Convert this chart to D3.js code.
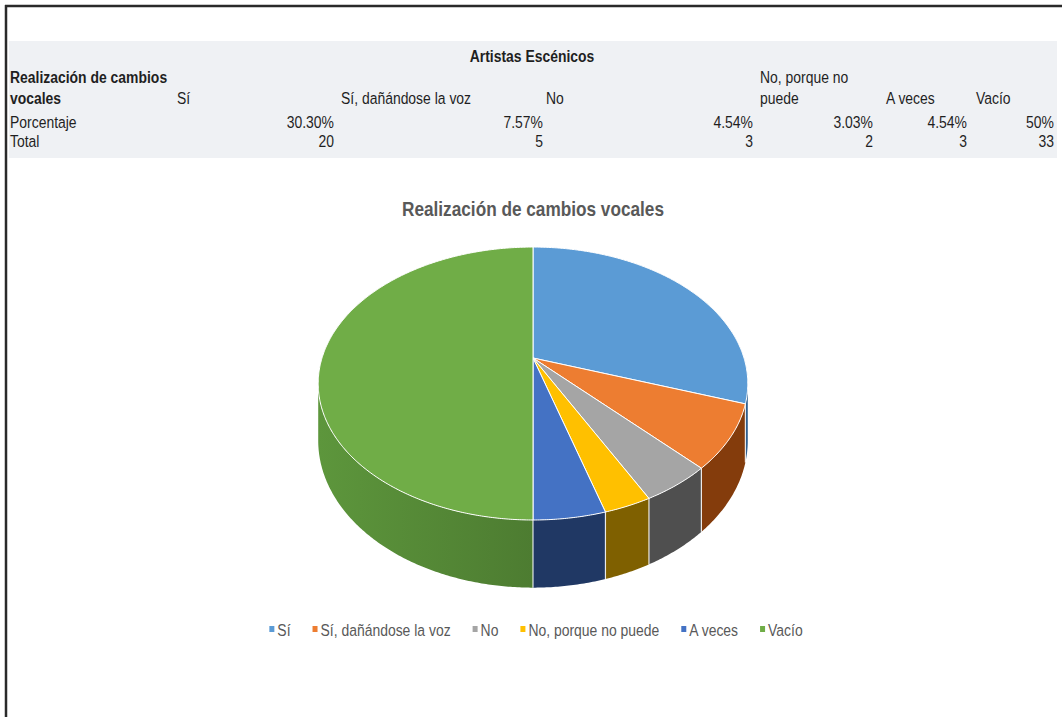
<!DOCTYPE html>
<html><head><meta charset="utf-8">
<script src="https://cdn.jsdelivr.net/npm/d3@7"></script>
<style>body{margin:0;background:#fff;} svg{display:block;}</style>
</head><body><svg id="c" width="1062" height="717"></svg>
<script>
// ---------- data ----------
const categories = ["Sí", "Sí, dañándose la voz", "No", "No, porque no puede", "A veces", "Vacío"];
const totals = [20, 5, 3, 2, 3, 33];
const percentLabels = ["30.30%", "7.57%", "4.54%", "3.03%", "4.54%", "50%"];
const tableTitle = "Artistas Escénicos";
const firstHeaderLines = ["Realización de cambios", "vocales"];
const headerLines = [["Sí"], ["Sí, dañándose la voz"], ["No"], ["No, porque no", "puede"], ["A veces"], ["Vacío"]];
const rowLabels = ["Porcentaje", "Total"];
const chartTitle = "Realización de cambios vocales";
const topColors = ["#5B9BD5", "#ED7D31", "#A5A5A5", "#FFC000", "#4472C4", "#70AD47"];
const sideColors = ["#2f5f8f", "#843c0c", "#4f4f4f", "#7f6000", "#203864", "#548235"];

// ---------- layout constants ----------
const headerX = [177, 341, 546, 760, 886, 976];
const valueRight = [334, 543, 753, 873, 967, 1054];

// ---------- font detection ----------
function hasFont(name) {
  const c = document.createElement("canvas").getContext("2d");
  const t = "abcdefghijklmnopqrstuvwxyz ABCDEFG 0123456789";
  c.font = "16px monospace"; const w1 = c.measureText(t).width;
  c.font = `16px "${name}", monospace`; const w2 = c.measureText(t).width;
  return Math.abs(w1 - w2) > 1;
}
const narrow = hasFont("Liberation Sans Narrow");
const FONT = narrow ? '"Liberation Sans Narrow", "Arial Narrow", sans-serif' : '"Liberation Sans", Arial, sans-serif';
const SX = narrow ? 1 : 0.82;

const svg = d3.select("#c");
function addText(g, x, y, str, o = {}) {
  return g.append("text")
    .attr("transform", `translate(${x},${y}) scale(${SX},1)`)
    .attr("font-family", FONT)
    .attr("font-size", o.size || 17)
    .attr("font-weight", o.bold ? "bold" : "normal")
    .attr("fill", o.fill || "#1f1f1f")
    .attr("text-anchor", o.anchor || "start")
    .text(str);
}

// ---------- frame ----------
svg.append("line").attr("x1", 5).attr("x2", 1062).attr("y1", 6).attr("y2", 6).attr("stroke", "#2a2a2a").attr("stroke-width", 2.5);
svg.append("line").attr("x1", 6).attr("x2", 6).attr("y1", 5).attr("y2", 717).attr("stroke", "#2a2a2a").attr("stroke-width", 2.5);

// ---------- table ----------
const tbl = svg.append("g");
tbl.append("rect").attr("x", 9).attr("y", 41).attr("width", 1048).attr("height", 117).attr("fill", "#eff1f4");
addText(tbl, 532, 62, tableTitle, { bold: true, anchor: "middle" });
firstHeaderLines.forEach((l, i) => addText(tbl, 10, 83 + i * 21, l, { bold: true }));
headerLines.forEach((lines, j) => {
  const off = lines.length === 2 ? 0 : 1;
  lines.forEach((l, i) => addText(tbl, headerX[j], 83 + (i + off) * 21, l));
});
addText(tbl, 10, 128, rowLabels[0]);
addText(tbl, 10, 147, rowLabels[1]);
percentLabels.forEach((p, j) => addText(tbl, valueRight[j], 128, p, { anchor: "end" }));
totals.forEach((t, j) => addText(tbl, valueRight[j], 147, String(t), { anchor: "end" }));

// ---------- title ----------
addText(svg, 533, 216, chartTitle, { size: 21, bold: true, fill: "#595959", anchor: "middle" });

// ---------- 3D pie ----------
const cx = 533, cy = 358, A = 211, B = 131.7, P = 0.187, H = 55;
function proj(theta, depth) {
  const u = Math.sin(theta), v = -Math.cos(theta);
  const s = 1 / (1 - P * v);
  return [cx + A * u * s, cy + B * v * s + depth * H * s];
}
function arcPts(a0, a1, depth) {
  const n = Math.max(2, Math.ceil((a1 - a0) / (Math.PI / 360)));
  return d3.range(n + 1).map(i => proj(a0 + (a1 - a0) * i / n, depth));
}
const arcs = d3.pie().sort(null).value(d => d)(totals);

const defs = svg.append("defs");
const gg = defs.append("linearGradient").attr("id", "gside").attr("gradientUnits", "userSpaceOnUse")
  .attr("x1", 318).attr("x2", 533).attr("y1", 0).attr("y2", 0);
gg.append("stop").attr("offset", 0).attr("stop-color", "#5d963c");
gg.append("stop").attr("offset", 1).attr("stop-color", "#4d7c31");

const pie = svg.append("g");
const visMin = Math.acos(-P), visMax = 2 * Math.PI - visMin;
const line = d3.line();
// side walls
arcs.forEach((a, i) => {
  const s0 = Math.max(a.startAngle, visMin), s1 = Math.min(a.endAngle, visMax);
  if (s1 <= s0) return;
  const top = arcPts(s0, s1, 0), bot = arcPts(s0, s1, 1).reverse();
  pie.append("path").attr("d", line(top.concat(bot)) + "Z")
    .attr("fill", i === 5 ? "url(#gside)" : sideColors[i]);
});
// side boundaries
arcs.forEach(a => {
  const t = a.startAngle;
  if (t > visMin && t < visMax) {
    const p0 = proj(t, 0), p1 = proj(t, 1);
    pie.append("line").attr("x1", p0[0]).attr("y1", p0[1]).attr("x2", p1[0]).attr("y2", p1[1])
      .attr("stroke", "#ffffff").attr("stroke-width", 1.2).attr("stroke-opacity", 0.85);
  }
});
// top faces
arcs.forEach((a, i) => {
  const pts = [[cx, cy]].concat(arcPts(a.startAngle, a.endAngle, 0));
  pie.append("path").attr("d", line(pts) + "Z")
    .attr("fill", topColors[i]).attr("stroke", "#ffffff").attr("stroke-width", 1).attr("stroke-linejoin", "round");
});

// ---------- legend ----------
const lg = svg.append("g");
const items = categories.map((c, i) => {
  const g = lg.append("g");
  g.append("rect").attr("width", 5).attr("height", 6).attr("y", -10).attr("fill", topColors[i]);
  const t = addText(g, 8, 0, c, { fill: "#595959" });
  const w = 8 + t.node().getComputedTextLength() * SX;
  return { g, w };
});
const gap = 22;
const total = d3.sum(items, d => d.w) + gap * (items.length - 1);
let x0 = 536 - total / 2;
items.forEach(it => { it.g.attr("transform", `translate(${x0},636)`); x0 += it.w + gap; });
</script>
</body></html>
